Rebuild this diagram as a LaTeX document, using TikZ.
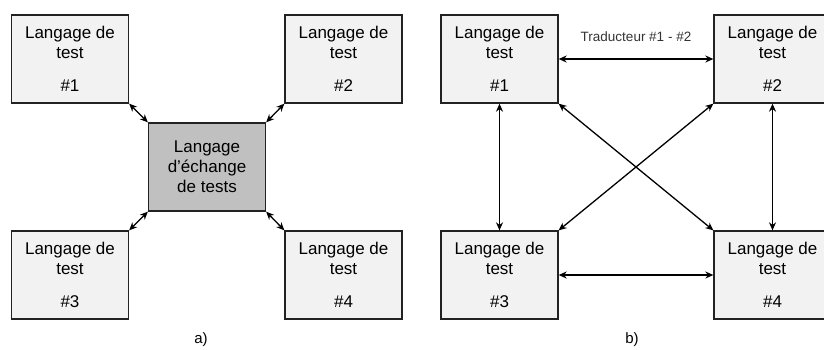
\documentclass[tikz,border=0pt]{standalone}
\usepackage{fontspec}
\setmainfont{Liberation Sans}
\usepackage{tikz}
\usepackage{xcolor}
\usetikzlibrary{arrows.meta}
\definecolor{boxfill}{HTML}{F2F2F2}
\definecolor{hubfill}{HTML}{C0C0C0}
\definecolor{edge}{HTML}{222222}
\tikzstyle{lang} = [rectangle, draw=edge, line width=1.3pt, fill=boxfill, minimum width=117, minimum height=88, inner sep=0pt, align=center, font=\fontsize{17}{20}\selectfont]
\tikzstyle{hub} = [lang, fill=hubfill]
\tikzstyle{link} = [line width=1.3pt, {Stealth[length=8pt,width=7pt]}-{Stealth[length=8pt,width=7pt]}]

\begin{document}
\begin{tikzpicture}[x=1pt, y=-1pt]
\useasboundingbox (0,0) rectangle (824,349);
\node[lang] (a1) at (70,59) {Langage de\\test\\[13pt]\#1};
\node[lang] (a2) at (343.5,59) {Langage de\\test\\[13pt]\#2};
\node[lang] (a3) at (70,275) {Langage de\\test\\[13pt]\#3};
\node[lang] (a4) at (343.5,275) {Langage de\\test\\[13pt]\#4};
\node[hub] (ac) at (207,167) {Langage\\d’échange\\de tests};

\node[lang] (b1) at (499.5,59) {Langage de\\test\\[13pt]\#1};
\node[lang] (b2) at (772.5,59) {Langage de\\test\\[13pt]\#2};
\node[lang] (b3) at (499.5,275) {Langage de\\test\\[13pt]\#3};
\node[lang] (b4) at (772.5,275) {Langage de\\test\\[13pt]\#4};

\foreach \from/\to in {a1.south east/ac.north west, a2.south west/ac.north east, a3.north east/ac.south west, a4.north west/ac.south east,
	b1/b3, b2/b4, b3/b4, b1.south east/b4.north west, b2.south west/b3.north east}
{
	\draw[link] (\from) -- (\to);
}
\draw[link] (b1) -- node[above=13pt, text=black!80, font=\fontsize{13.5}{15}\selectfont] (trad) {Traducteur \#1 - \#2} (b2);

\node[font=\fontsize{15}{17}\selectfont] (capa) at (201,340) {a)};
\node[font=\fontsize{15}{17}\selectfont] (capb) at (632,340) {b)};
\end{tikzpicture}
\end{document}
